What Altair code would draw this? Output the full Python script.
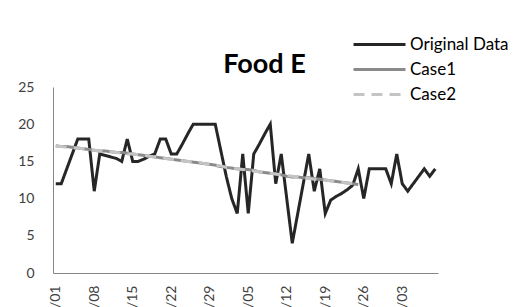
import altair as alt
import pandas as pd

days = ("3/01 3/02 3/03 3/04 3/05 3/06 3/07 3/08 3/09 3/10 3/11 3/12 3/13 3/14 3/15 3/16 "
        "3/17 3/18 3/19 3/20 3/21 3/22 3/23 3/24 3/25 3/26 3/27 3/28 3/29 3/30 3/31 "
        "4/01 4/02 4/03 4/04 4/05 4/06 4/07 4/08 4/09 4/10 4/11 4/12 4/13 4/14 4/15 "
        "4/16 4/17 4/18 4/19 4/20 4/21 4/22 4/23 4/24 4/25 4/26 4/27 4/28 4/29 4/30 "
        "5/01 5/02 5/03 5/04 5/05 5/06 5/07 5/08 5/09").split()

tick_days = ["3/01", "3/08", "3/15", "3/22", "3/29", "4/05", "4/12", "4/19", "4/26", "5/03"]

original = [12, 12, 14, 16, 18, 18, 18, 11, 16, 15.8,
            15.6, 15.4, 15, 18, 15, 15, 15.3, 15.7, 16, 18,
            18, 16, 16, 17.3, 18.7, 20, 20, 20, 20, 20,
            16.5, 13, 10, 8, 16, 8, 16, 17.3, 18.7, 20,
            12, 16, 10, 4, 8, 12, 16, 11, 14, 8,
            9.8, 10.3, 10.7, 11.2, 11.8, 14, 10, 14, 14, 14,
            14, 12, 16, 12, 11, 12, 13, 14, 13, 14]

case1 = [17.1, 17.0, 17.0, 16.9, 16.8, 16.7, 16.6, 16.5, 16.4, 16.4,
         16.3, 16.2, 16.2, 16.1, 16.0, 15.9, 15.8, 15.7, 15.6, 15.5,
         15.4, 15.3, 15.2, 15.1, 15.0, 14.9, 14.8, 14.7, 14.6, 14.5,
         14.3, 14.2, 14.1, 14.0, 13.9, 13.9, 13.8, 13.6, 13.5, 13.4,
         13.3, 13.2, 13.0, 12.9, 12.9, 12.8, 12.8, 12.7, 12.6, 12.5,
         12.4, 12.3, 12.2, 12.1, 12.0, 11.9]

case2 = [17.0, 17.0, 16.9, 16.8, 16.8, 16.7, 16.6, 16.5, 16.4, 16.3,
         16.3, 16.2, 16.1, 16.0, 16.0, 15.9, 15.8, 15.7, 15.6, 15.5,
         15.4, 15.3, 15.2, 15.1, 15.0, 15.0, 14.9, 14.7, 14.6, 14.5,
         14.4, 14.2, 14.1, 14.0, 13.9, 13.8, 13.7, 13.6, 13.5, 13.4,
         13.3, 13.2, 13.1, 13.0, 12.9, 12.8, 12.7, 12.6, 12.6, 12.5,
         12.4, 12.3, 12.2, 12.1, 12.0, 11.9]

series_names = ["Original Data", "Case1", "Case2"]
series_colors = ["#262626", "#8a8a8a", "#c4c4c4"]
series_dash = [[1, 0], [1, 0], [11, 7]]
y_ticks = [0, 5, 10, 15, 20, 25]

rows = []
for name, vals in zip(series_names, [original, case1, case2]):
    for d, v in zip(days, vals):
        rows.append({"day": d, "series": name, "value": v})
df = pd.DataFrame(rows)

legend = alt.Legend(
    title=None, orient="none", legendX=318, legendY=-51,
    symbolType="M-5,0H5", symbolSize=108, symbolStrokeWidth=3,
    labelFont="Lato", labelFontSize=17, labelColor="#000000",
    labelOffset=22, rowPadding=7, padding=0,
)

base = alt.Chart(df).mark_line(strokeWidth=3).encode(
    x=alt.X("day:O", sort=days,
            scale=alt.Scale(type="point", padding=0.5),
            axis=alt.Axis(values=tick_days, labelAngle=-90, ticks=False, title=None,
                          domainColor="#868686", labelFont="Lato", labelFontSize=14,
                          labelColor="#404040", labelPadding=12)),
    y=alt.Y("value:Q", scale=alt.Scale(domain=[0, 25], nice=False),
            axis=alt.Axis(values=y_ticks, grid=False, ticks=False, title=None,
                          domainColor="#868686", labelFont="Lato", labelFontSize=14,
                          labelColor="#404040", labelPadding=19)),
    color=alt.Color("series:N", scale=alt.Scale(domain=series_names, range=series_colors),
                    legend=legend),
    strokeDash=alt.StrokeDash("series:N", scale=alt.Scale(domain=series_names, range=series_dash),
                              legend=legend),
)

layers = [base.transform_filter(alt.datum.series == n) for n in series_names]

chart = alt.layer(*layers).properties(
    width=385, height=186,
    title=alt.TitleParams("Food E", font="Lato", fontSize=27, fontWeight="bold",
                          color="#000000", anchor="middle", dx=19, dy=49, offset=6),
    padding={"left": 45, "top": 79, "right": 74, "bottom": 34},
    autosize=alt.AutoSizeParams(type="none"),
).configure_view(stroke=None)

chart.save("out.html", embed_options={"renderer": "svg", "actions": False})
